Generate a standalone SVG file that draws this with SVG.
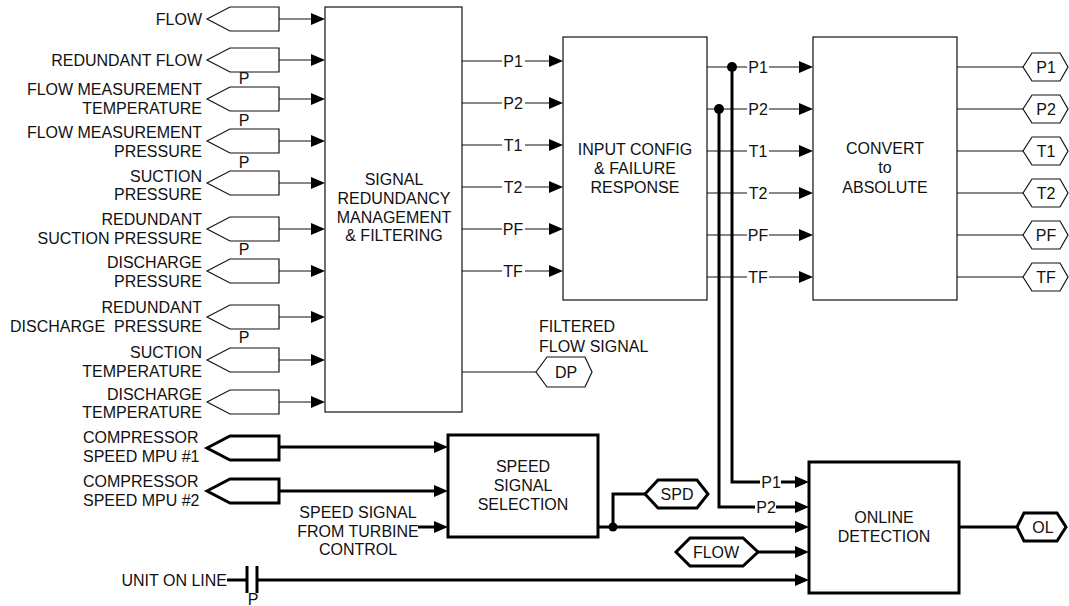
<svg xmlns="http://www.w3.org/2000/svg" xmlns:xlink="http://www.w3.org/1999/xlink" width="1069" height="606" viewBox="0 0 1069 606">
<style>
.t{font-family:"Liberation Sans",Arial,sans-serif;font-size:16px;fill:#111}
.e{text-anchor:end}
.m{text-anchor:middle}
.thin{fill:none;stroke:#111;stroke-width:1.2}
.thk{fill:none;stroke:#000;stroke-width:3}
.box{fill:#fff;stroke:#111;stroke-width:1.2}
.boxk{fill:#fff;stroke:#000;stroke-width:3}
.a{marker-end:url(#ah)}
</style>
<defs>
<marker id="ah" viewBox="0 0 14 12" refX="9" refY="6" markerWidth="14" markerHeight="12" markerUnits="userSpaceOnUse" orient="auto"><path d="M0,0L14,6L0,12z" fill="#000"/></marker>
<polygon id="inS" points="207,0 230,-12 279,-12 279,12 230,12"/>
<polygon id="outH" points="1023,0 1032,-14 1060,-14 1068,0 1060,14 1032,14"/>
</defs>
<rect width="1069" height="606" fill="#fff"/>

<!-- inputs -->
<g id="in-flow"><text class="t e" x="202" y="25">FLOW</text><use href="#inS" y="19" class="box"/></g>
<g id="in-rflow"><text class="t e" x="202" y="66">REDUNDANT FLOW</text><use href="#inS" y="60" class="box"/></g>
<g id="in-fmt"><text class="t e" x="202" y="95">FLOW MEASUREMENT</text><text class="t e" x="202" y="114">TEMPERATURE</text><use href="#inS" y="99" class="box"/></g>
<g id="in-fmp"><text class="t e" x="202" y="138">FLOW MEASUREMENT</text><text class="t e" x="202" y="157">PRESSURE</text><use href="#inS" y="141" class="box"/></g>
<g id="in-sp"><text class="t e" x="202" y="182">SUCTION</text><text class="t e" x="202" y="200">PRESSURE</text><use href="#inS" y="183" class="box"/></g>
<g id="in-rsp"><text class="t e" x="202" y="225">REDUNDANT</text><text class="t e" x="202" y="244">SUCTION PRESSURE</text><use href="#inS" y="229" class="box"/></g>
<g id="in-dp"><text class="t e" x="202" y="268">DISCHARGE</text><text class="t e" x="202" y="287">PRESSURE</text><use href="#inS" y="271" class="box"/></g>
<g id="in-rdp"><text class="t e" x="202" y="313">REDUNDANT</text><text class="t e" x="202" y="332">DISCHARGE&#160; PRESSURE</text><use href="#inS" y="317" class="box"/></g>
<g id="in-st"><text class="t e" x="202" y="358">SUCTION</text><text class="t e" x="202" y="377">TEMPERATURE</text><use href="#inS" y="360" class="box"/></g>
<g id="in-dt"><text class="t e" x="202" y="400">DISCHARGE</text><text class="t e" x="202" y="418">TEMPERATURE</text><use href="#inS" y="402" class="box"/></g>
<g id="p-labels">
<text class="t m" x="244" y="84">P</text>
<text class="t m" x="244" y="126">P</text>
<text class="t m" x="244" y="168">P</text>
<text class="t m" x="244" y="255">P</text>
<text class="t m" x="244" y="343">P</text>
</g>

<g id="in-mpu1"><text class="t" x="83" y="443">COMPRESSOR</text><text class="t" x="83" y="462">SPEED MPU #1</text><polygon class="boxk" points="207,448 230,436 279,436 279,460 230,460"/></g>
<g id="in-mpu2"><text class="t" x="83" y="487">COMPRESSOR</text><text class="t" x="83" y="506">SPEED MPU #2</text><polygon class="boxk" points="207,491 230,479 279,479 279,503 230,503"/></g>
<g id="in-turbine"><text class="t m" x="358" y="518">SPEED SIGNAL</text><text class="t m" x="358" y="537">FROM TURBINE</text><text class="t m" x="358" y="555">CONTROL</text></g>
<g id="in-unit"><text class="t e" x="227" y="586">UNIT ON LINE</text>
<line class="thk" x1="247" y1="566" x2="247" y2="593"/><line class="thk" x1="257" y1="566" x2="257" y2="593"/>
<text class="t m" x="253" y="605">P</text></g>

<!-- blocks -->
<g id="srmf"><rect class="box" x="325" y="7" width="137" height="405"/>
<text class="t m" x="394" y="185">SIGNAL</text><text class="t m" x="394" y="204">REDUNDANCY</text><text class="t m" x="394" y="223">MANAGEMENT</text><text class="t m" x="394" y="241">&amp; FILTERING</text></g>
<g id="icfr"><rect class="box" x="563" y="37" width="144" height="263"/>
<text class="t m" x="635" y="155">INPUT CONFIG</text><text class="t m" x="635" y="174">&amp; FAILURE</text><text class="t m" x="635" y="193">RESPONSE</text></g>
<g id="cta"><rect class="box" x="813" y="37" width="144" height="263"/>
<text class="t m" x="885" y="154">CONVERT</text><text class="t m" x="885" y="173">to</text><text class="t m" x="885" y="193">ABSOLUTE</text></g>
<g id="sss"><rect class="boxk" x="448" y="435" width="150" height="102"/>
<text class="t m" x="523" y="472">SPEED</text><text class="t m" x="523" y="491">SIGNAL</text><text class="t m" x="523" y="510">SELECTION</text></g>
<g id="old"><rect class="boxk" x="809" y="462" width="150" height="131"/>
<text class="t m" x="884" y="523">ONLINE</text><text class="t m" x="884" y="542">DETECTION</text></g>

<!-- output tags -->
<g id="out-p1"><use href="#outH" y="67" class="box"/><text class="t m" x="1046" y="73">P1</text></g>
<g id="out-p2"><use href="#outH" y="109" class="box"/><text class="t m" x="1046" y="115">P2</text></g>
<g id="out-t1"><use href="#outH" y="151" class="box"/><text class="t m" x="1046" y="157">T1</text></g>
<g id="out-t2"><use href="#outH" y="193" class="box"/><text class="t m" x="1046" y="199">T2</text></g>
<g id="out-pf"><use href="#outH" y="235" class="box"/><text class="t m" x="1046" y="241">PF</text></g>
<g id="out-tf"><use href="#outH" y="277" class="box"/><text class="t m" x="1046" y="283">TF</text></g>
<g id="out-dp"><polygon class="box" points="536,372 547,357 585,357 592,372 585,387 547,387"/><text class="t m" x="566" y="378">DP</text></g>
<g id="filtered-label"><text class="t" x="539" y="332">FILTERED</text><text class="t" x="539" y="352">FLOW SIGNAL</text></g>
<g id="out-spd"><polygon class="boxk" points="645,494 658,480 697,480 708,494 697,508 658,508"/><text class="t m" x="677" y="500">SPD</text></g>
<g id="in-flowtag"><polygon class="boxk" points="676,552 690,538 743,538 758,552 743,566 690,566"/><text class="t m" x="716" y="558">FLOW</text></g>
<g id="out-ol"><polygon class="boxk" points="1017,527 1024,513 1057,513 1066,527 1057,541 1024,541"/><text class="t m" x="1043" y="533">OL</text></g>

<!-- connectors -->
<g id="connectors">
<g class="thin">
<path class="a" d="M279,19H320"/><path class="a" d="M279,60H320"/><path class="a" d="M279,99H320"/><path class="a" d="M279,141H320"/><path class="a" d="M279,183H320"/><path class="a" d="M279,229H320"/><path class="a" d="M279,271H320"/><path class="a" d="M279,317H320"/><path class="a" d="M279,360H320"/><path class="a" d="M279,402H320"/>
<path d="M462,61H502M462,103H502M462,145H502M462,187H502M462,229H502M462,271H502"/>
<path class="a" d="M525,61H558"/><path class="a" d="M525,103H558"/><path class="a" d="M525,145H558"/><path class="a" d="M525,187H558"/><path class="a" d="M525,229H558"/><path class="a" d="M525,271H558"/>
<path d="M707,67H747M707,109H747M707,151H747M707,193H747M707,235H747M707,277H747"/>
<path class="a" d="M769,67H808"/><path class="a" d="M769,109H808"/><path class="a" d="M769,151H808"/><path class="a" d="M769,193H808"/><path class="a" d="M769,235H808"/><path class="a" d="M769,277H808"/>
<path d="M957,67H1023M957,109H1023M957,151H1023M957,193H1023M957,235H1023M957,277H1023M462,372H536"/>
</g>
<g>
<text class="t m" x="513" y="67">P1</text><text class="t m" x="513" y="109">P2</text><text class="t m" x="513" y="151">T1</text><text class="t m" x="513" y="193">T2</text><text class="t m" x="513" y="235">PF</text><text class="t m" x="513" y="277">TF</text>
<text class="t m" x="758" y="73">P1</text><text class="t m" x="758" y="115">P2</text><text class="t m" x="758" y="157">T1</text><text class="t m" x="758" y="199">T2</text><text class="t m" x="758" y="241">PF</text><text class="t m" x="758" y="283">TF</text>
</g>
<path class="thk" d="M732,67V482H760"/>
<path class="thk" d="M719,109V507H755"/>
<circle cx="732" cy="67" r="5" fill="#000"/>
<circle cx="719" cy="109" r="5" fill="#000"/>
<text class="t m" x="771" y="488">P1</text>
<text class="t m" x="766" y="513">P2</text>
<path class="thk a" d="M781,482H804"/>
<path class="thk a" d="M776,507H804"/>
<path class="thk a" d="M279,447H443"/>
<path class="thk a" d="M279,491H443"/>
<path class="thk a" d="M418,527H443"/>
<path class="thk a" d="M598,527H804"/>
<path class="thk" d="M613,527V494H645"/>
<circle cx="613" cy="527" r="4.5" fill="#000"/>
<path class="thk a" d="M758,552H804"/>
<path class="thk" d="M227,580H247"/>
<path class="thk a" d="M257,580H804"/>
<path class="thk" d="M959,527H1017"/>
</g>
</svg>
